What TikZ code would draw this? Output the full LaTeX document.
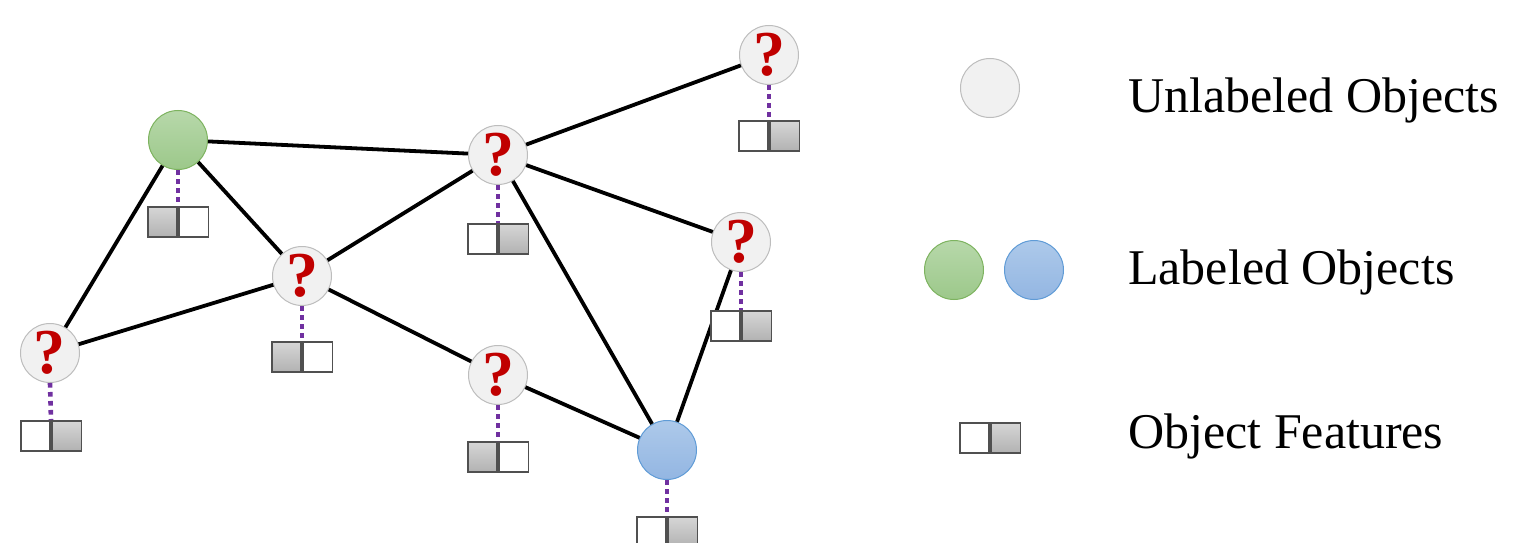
\documentclass[tikz,border=0pt]{standalone}
\usepackage{fontspec}
\setmainfont{Liberation Serif}
\definecolor{ufill}{HTML}{F1F1F1}
\definecolor{udraw}{HTML}{BDBDBD}
\definecolor{gtop}{HTML}{B7D8AA}
\definecolor{gbot}{HTML}{9CC88A}
\definecolor{gdraw}{HTML}{7DB35F}
\definecolor{btop}{HTML}{ADC9EA}
\definecolor{bbot}{HTML}{93B6E2}
\definecolor{bdraw}{HTML}{5F9BD6}
\definecolor{qred}{HTML}{C00000}
\definecolor{dotpurple}{HTML}{7030A0}
\definecolor{boxdraw}{HTML}{505050}
\definecolor{graytop}{HTML}{D6D6D6}
\definecolor{graybot}{HTML}{B2B2B2}
\tikzset{
  obj/.style={circle, minimum size=59pt, inner sep=0pt, line width=1pt},
  unl/.style={obj, fill=ufill, draw=udraw,
    font=\fontsize{64}{64}\selectfont\bfseries\color{qred}},
  lgreen/.style={obj, top color=gtop, bottom color=gbot, draw=gdraw},
  lblue/.style={obj, top color=btop, bottom color=bbot, draw=bdraw},
  cell/.style={rectangle, minimum width=29.5pt, minimum height=30pt, inner sep=0pt,
    draw=boxdraw, line width=1.6pt},
  wcell/.style={cell, fill=white},
  gcell/.style={cell, top color=graytop, bottom color=graybot},
  edge/.style={line width=3.8pt, black},
  feat/.style={line width=4.6pt, dotpurple, dash pattern=on 4.6pt off 4.4pt},
  legtext/.style={anchor=base west, inner sep=0pt, font=\fontsize{50}{50}\selectfont}
}
% #1 name, #2 x centre, #3 y top, #4 left style, #5 right style
\newcommand{\featpair}[5]{%
  \node[#4, anchor=north east] (#1l) at (#2,#3) {};
  \node[#5, anchor=north west] (#1r) at (#2,#3) {};
}
\begin{document}
\begin{tikzpicture}[x=1pt,y=-1pt]
\useasboundingbox (0,0) rectangle (1527,543);

% objects
\node[lgreen] (g) at (178,140) {};
\node[unl] (q1) at (769,55) {?};
\node[unl] (q2) at (498,155) {?};
\node[unl] (q3) at (741,242) {?};
\node[unl] (q4) at (302,276) {?};
\node[unl] (q5) at (50,353) {?};
\node[unl] (q6) at (498,375) {?};
\node[lblue] (b) at (667,450) {};

% edges
\draw[edge] (g) -- (q2);
\draw[edge] (g) -- (q4);
\draw[edge] (g) -- (q5);
\draw[edge] (q2) -- (q1);
\draw[edge] (q2) -- (q4);
\draw[edge] (q2) -- (q3);
\draw[edge] (q2) -- (b);
\draw[edge] (q4) -- (q5);
\draw[edge] (q4) -- (q6);
\draw[edge] (q6) -- (b);
\draw[edge] (q3) -- (b);

% feature boxes
\featpair{fg}{178}{206}{gcell}{wcell}
\featpair{fq1}{769}{120}{wcell}{gcell}
\featpair{fq2}{498}{223}{wcell}{gcell}
\featpair{fq3}{741}{310}{wcell}{gcell}
\featpair{fq4}{302}{341}{gcell}{wcell}
\featpair{fq5}{51}{420}{wcell}{gcell}
\featpair{fq6}{498}{441}{gcell}{wcell}
\featpair{fb}{667}{516}{wcell}{gcell}

% dotted links
\draw[feat] (g.south) -- (fgl.north east);
\draw[feat] (q1.south) -- (fq1l.north east);
\draw[feat] (q2.south) -- (fq2l.north east);
\draw[feat] (q3.south) -- (fq3l.north east);
\draw[feat] (q4.south) -- (fq4l.north east);
\draw[feat] (q5.south) -- (fq5l.north east);
\draw[feat] (q6.south) -- (fq6l.north east);
\draw[feat] (b.south) -- (fbl.north east);

% legend
\node[obj, fill=ufill, draw=udraw] (lu) at (990,88) {};
\node[lgreen] (lg) at (954,270) {};
\node[lblue] (lb) at (1034,270) {};
\featpair{lf}{990}{422}{wcell}{gcell}
\node[legtext] (t1) at (1128,113) {Unlabeled Objects};
\node[legtext] (t2) at (1128,284) {Labeled Objects};
\node[legtext] (t3) at (1128,448) {Object Features};
\end{tikzpicture}
\end{document}
